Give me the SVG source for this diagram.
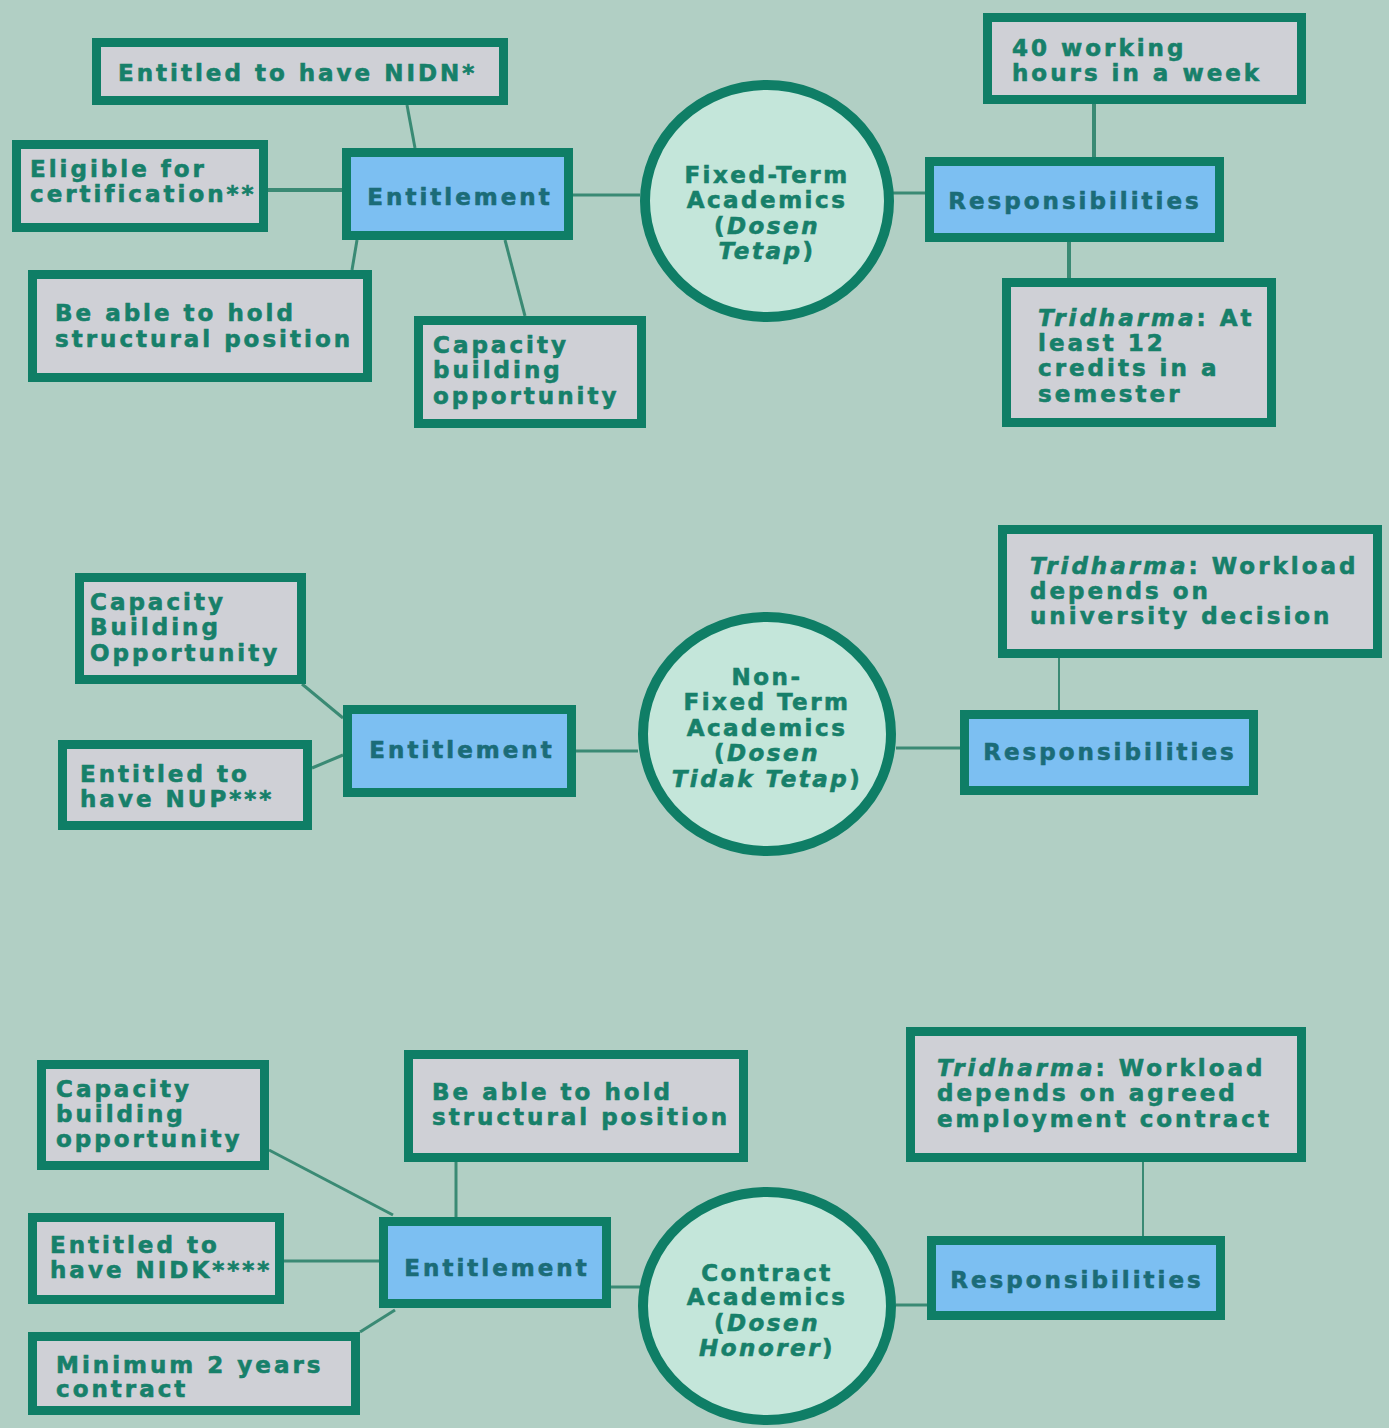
<svg xmlns="http://www.w3.org/2000/svg" width="1389" height="1428" viewBox="0 0 1389 1428">
<style>
.box{fill:#cfd0d6;stroke:#0f7e66;stroke-width:9}
.blue{fill:#7cbff2;stroke:#0f7e66;stroke-width:9}
.circ{fill:#c4e6da;stroke:#0f7e66;stroke-width:10}
.t{font-family:"DejaVu Sans",sans-serif;font-weight:bold;font-size:23px;letter-spacing:3px;fill:#17806a;stroke:#17806a;stroke-width:0.6}
.bt{font-family:"DejaVu Sans",sans-serif;font-weight:bold;font-size:23px;letter-spacing:3px;fill:#1b6c78;stroke:#1b6c78;stroke-width:0.6;text-anchor:middle}
.ct{font-family:"DejaVu Sans",sans-serif;font-weight:bold;font-size:23px;letter-spacing:2.5px;fill:#17806a;stroke:#17806a;stroke-width:0.6;text-anchor:middle}
.i{font-style:italic}
.c line{stroke:#3a8a74;stroke-width:3}
</style>
<rect width="1389" height="1428" fill="#b1cfc4"/>
<g class="c">
<line x1="407" y1="105" x2="415" y2="148"/>
<line x1="268" y1="190" x2="342" y2="190" style="stroke-width:4"/>
<line x1="357" y1="240" x2="352" y2="270"/>
<line x1="505" y1="240" x2="525" y2="316"/>
<line x1="573" y1="195" x2="640" y2="195"/>
<line x1="893" y1="193" x2="925" y2="193"/>
<line x1="1094" y1="104" x2="1094" y2="157" style="stroke-width:4"/>
<line x1="1069" y1="242" x2="1069" y2="278" style="stroke-width:4"/>
<line x1="302" y1="684" x2="343" y2="718"/>
<line x1="312" y1="768" x2="343" y2="755"/>
<line x1="576" y1="751" x2="638" y2="751"/>
<line x1="896" y1="748" x2="960" y2="748"/>
<line x1="1059" y1="658" x2="1059" y2="710" style="stroke-width:2"/>
<line x1="269" y1="1150" x2="393" y2="1215"/>
<line x1="284" y1="1261" x2="379" y2="1261"/>
<line x1="395" y1="1310" x2="360" y2="1332"/>
<line x1="456" y1="1162" x2="456" y2="1217"/>
<line x1="611" y1="1287" x2="640" y2="1287"/>
<line x1="896" y1="1305" x2="927" y2="1305"/>
<line x1="1143" y1="1162" x2="1143" y2="1236" style="stroke-width:2"/>
</g>
<g id="s1-nidn"><rect class="box" x="96.5" y="42.5" width="407" height="58"/><text class="t" x="118" y="81">Entitled to have NIDN*</text></g>
<g id="s1-eligible"><rect class="box" x="16.5" y="144.5" width="247" height="83"/><text class="t" x="30" y="177">Eligible for</text><text class="t" x="30" y="202">certification**</text></g>
<g id="s1-entitlement"><rect class="blue" x="346.5" y="152.5" width="222" height="83"/><text class="bt" x="460" y="205">Entitlement</text></g>
<g id="s1-structural"><rect class="box" x="32.5" y="274.5" width="335" height="103"/><text class="t" x="55" y="321">Be able to hold</text><text class="t" x="55" y="347">structural position</text></g>
<g id="s1-capacity"><rect class="box" x="418.5" y="320.5" width="223" height="103"/><text class="t" x="433" y="353">Capacity</text><text class="t" x="433" y="378">building</text><text class="t" x="433" y="404">opportunity</text></g>
<g id="s1-center"><ellipse class="circ" cx="767" cy="201" rx="122" ry="116"/><text class="ct" x="767" y="183">Fixed-Term</text><text class="ct" x="767" y="208">Academics</text><text class="ct" x="767" y="234">(<tspan class="i">Dosen</tspan></text><text class="ct i" x="767" y="259">Tetap<tspan font-style="normal">)</tspan></text></g>
<g id="s1-resp"><rect class="blue" x="929.5" y="161.5" width="290" height="76"/><text class="bt" x="1075" y="209">Responsibilities</text></g>
<g id="s1-hours"><rect class="box" x="987.5" y="17.5" width="314" height="82"/><text class="t" x="1012" y="56">40 working</text><text class="t" x="1012" y="81">hours in a week</text></g>
<g id="s1-tridharma"><rect class="box" x="1006.5" y="282.5" width="265" height="140"/><text class="t" x="1038" y="326"><tspan class="i">Tridharma</tspan>: At</text><text class="t" x="1038" y="351">least 12</text><text class="t" x="1038" y="376">credits in a</text><text class="t" x="1038" y="402">semester</text></g>

<g id="s2-capacity"><rect class="box" x="79.5" y="577.5" width="222" height="102"/><text class="t" x="90" y="610">Capacity</text><text class="t" x="90" y="635">Building</text><text class="t" x="90" y="661">Opportunity</text></g>
<g id="s2-nup"><rect class="box" x="62.5" y="744.5" width="245" height="81"/><text class="t" x="80" y="782">Entitled to</text><text class="t" x="80" y="807">have NUP***</text></g>
<g id="s2-entitlement"><rect class="blue" x="347.5" y="709.5" width="224" height="83"/><text class="bt" x="462" y="758">Entitlement</text></g>
<g id="s2-center"><ellipse class="circ" cx="767" cy="734" rx="124" ry="117"/><text class="ct" x="767" y="685">Non-</text><text class="ct" x="767" y="710">Fixed Term</text><text class="ct" x="767" y="736">Academics</text><text class="ct" x="767" y="761">(<tspan class="i">Dosen</tspan></text><text class="ct i" x="767" y="787">Tidak Tetap<tspan font-style="normal">)</tspan></text></g>
<g id="s2-resp"><rect class="blue" x="964.5" y="714.5" width="289" height="76"/><text class="bt" x="1110" y="760">Responsibilities</text></g>
<g id="s2-tridharma"><rect class="box" x="1002.5" y="529.5" width="375" height="124"/><text class="t" x="1030" y="574"><tspan class="i">Tridharma</tspan>: Workload</text><text class="t" x="1030" y="599">depends on</text><text class="t" x="1030" y="624">university decision</text></g>

<g id="s3-capacity"><rect class="box" x="41.5" y="1064.5" width="223" height="101"/><text class="t" x="56" y="1097">Capacity</text><text class="t" x="56" y="1122">building</text><text class="t" x="56" y="1147">opportunity</text></g>
<g id="s3-nidk"><rect class="box" x="32.5" y="1217.5" width="247" height="82"/><text class="t" x="50" y="1253">Entitled to</text><text class="t" x="50" y="1278">have NIDK****</text></g>
<g id="s3-minimum"><rect class="box" x="32.5" y="1336.5" width="323" height="74"/><text class="t" x="56" y="1373">Minimum 2 years</text><text class="t" x="56" y="1397">contract</text></g>
<g id="s3-structural"><rect class="box" x="408.5" y="1054.5" width="335" height="103"/><text class="t" x="432" y="1100">Be able to hold</text><text class="t" x="432" y="1125">structural position</text></g>
<g id="s3-entitlement"><rect class="blue" x="383.5" y="1221.5" width="223" height="82"/><text class="bt" x="497" y="1276">Entitlement</text></g>
<g id="s3-center"><ellipse class="circ" cx="767" cy="1306" rx="124" ry="114"/><text class="ct" x="767" y="1281">Contract</text><text class="ct" x="767" y="1305">Academics</text><text class="ct" x="767" y="1331">(<tspan class="i">Dosen</tspan></text><text class="ct i" x="767" y="1356">Honorer<tspan font-style="normal">)</tspan></text></g>
<g id="s3-resp"><rect class="blue" x="931.5" y="1240.5" width="289" height="75"/><text class="bt" x="1077" y="1288">Responsibilities</text></g>
<g id="s3-tridharma"><rect class="box" x="910.5" y="1031.5" width="391" height="126"/><text class="t" x="937" y="1076"><tspan class="i">Tridharma</tspan>: Workload</text><text class="t" x="937" y="1101">depends on agreed</text><text class="t" x="937" y="1127">employment contract</text></g>
</svg>
